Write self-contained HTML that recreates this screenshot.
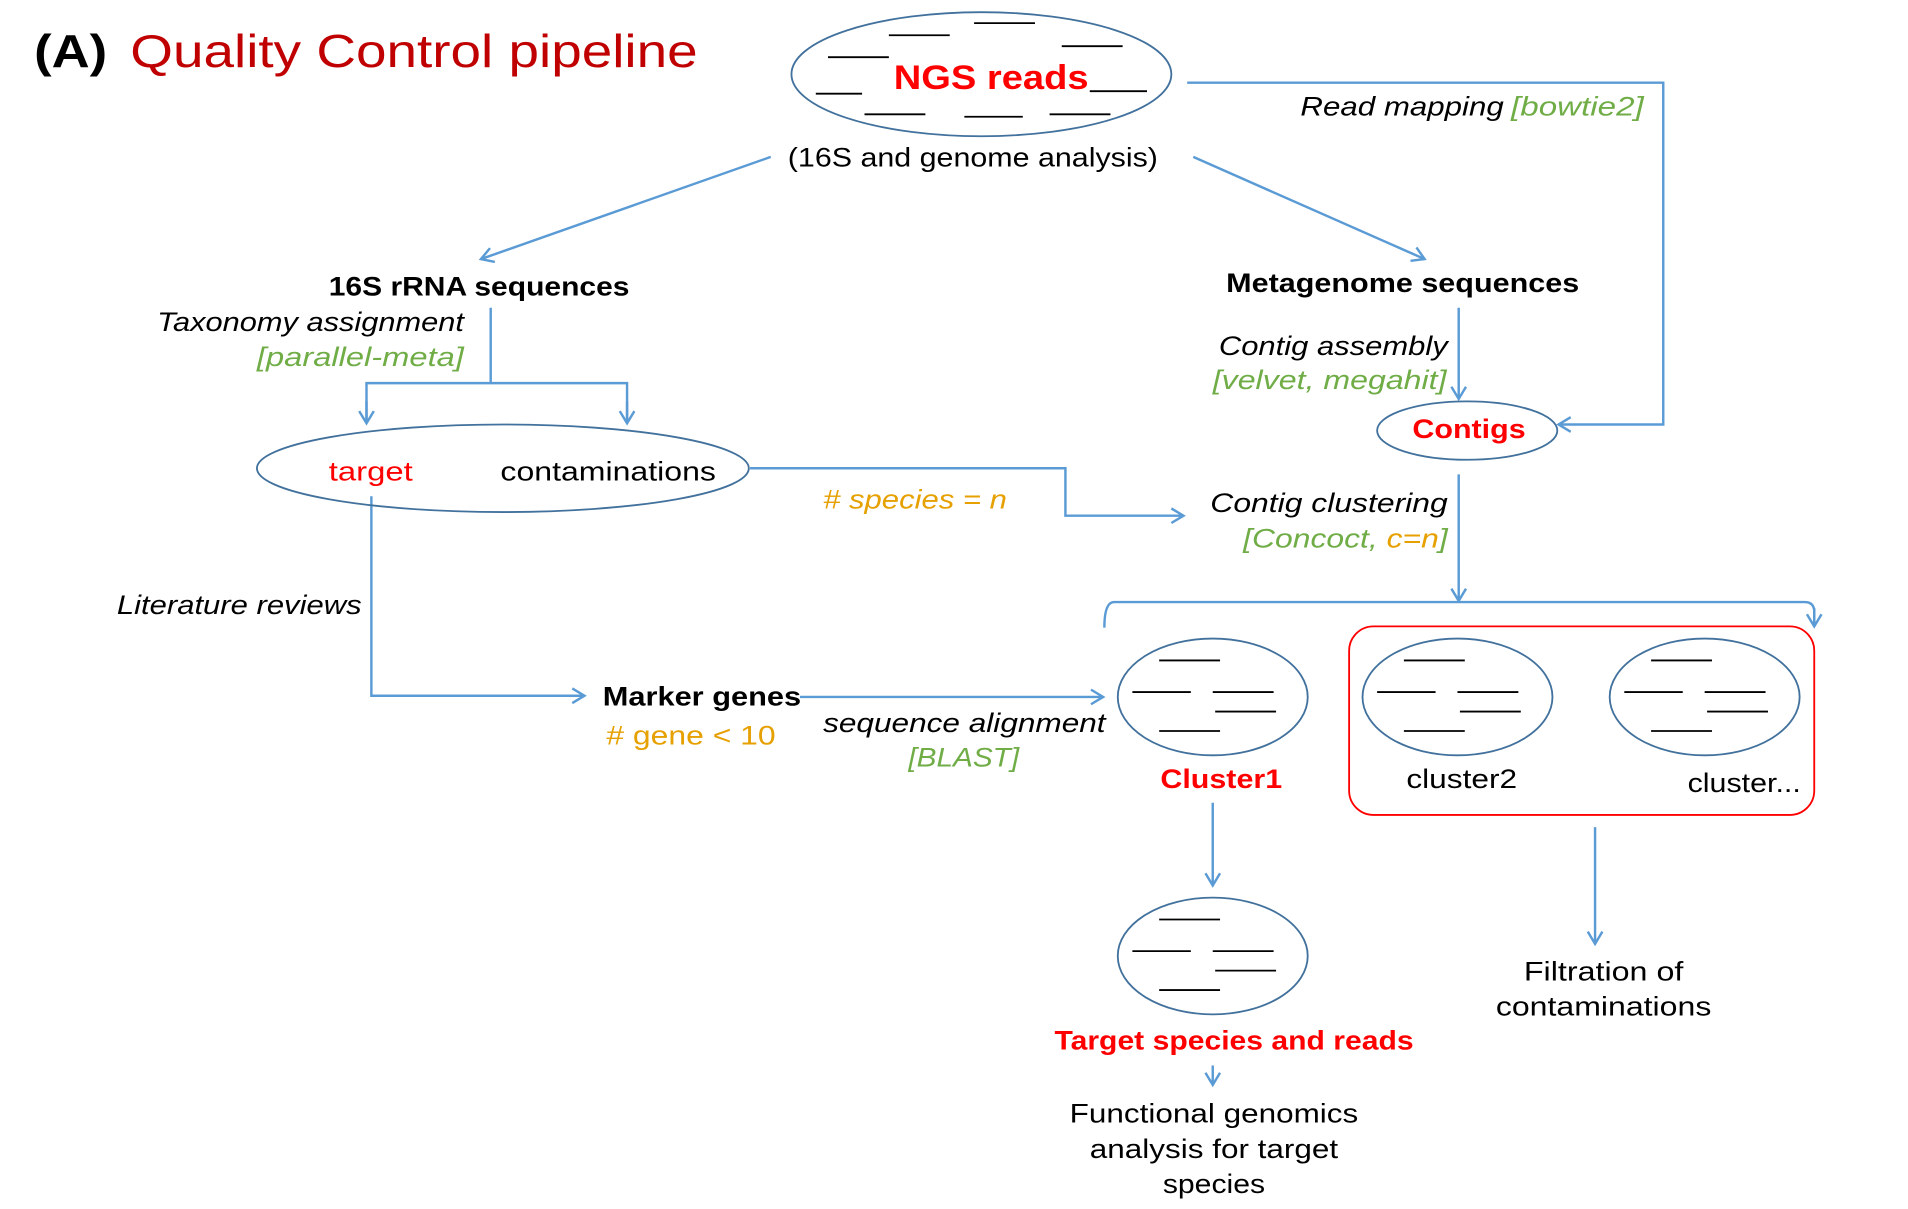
<!DOCTYPE html>
<html><head><meta charset="utf-8"><style>html,body{margin:0;padding:0;background:#fff}svg{display:block}text{font-family:"Liberation Sans",sans-serif}</style></head><body>
<svg width="1908" height="1209" viewBox="0 0 1567 994" preserveAspectRatio="none" xmlns="http://www.w3.org/2000/svg">
<defs>
<marker id="a" markerWidth="16" markerHeight="16" refX="12" refY="8" orient="auto" markerUnits="userSpaceOnUse">
<polyline points="2,2 12,8 2,14" fill="none" stroke="#5b9bd5" stroke-width="2"/></marker>
<g id="c" stroke="#000" stroke-width="1.5">
<line x1="-44" y1="-30" x2="6" y2="-30"/><line x1="-66" y1="-4" x2="-18" y2="-4"/><line x1="0" y1="-4" x2="50" y2="-4"/>
<line x1="2" y1="12" x2="52" y2="12"/><line x1="-44" y1="28" x2="6" y2="28"/></g>
</defs>
<g fill="none" stroke="#5b9bd5" stroke-width="2">
<line x1="633" y1="129" x2="395" y2="213" marker-end="url(#a)"/>
<line x1="980" y1="129" x2="1170" y2="213" marker-end="url(#a)"/>
<polyline points="975,68 1366,68 1366,349 1280,349" marker-end="url(#a)"/>
<line x1="403" y1="253" x2="403" y2="315"/>
<polyline points="301,347 301,315 515,315 515,347"/>
<line x1="301" y1="330" x2="301" y2="348" marker-end="url(#a)"/>
<line x1="515" y1="330" x2="515" y2="348" marker-end="url(#a)"/>
<polyline points="616,385 875,385 875,424 972,424" marker-end="url(#a)"/>
<line x1="1198" y1="253" x2="1198" y2="328" marker-end="url(#a)"/>
<line x1="1198" y1="390" x2="1198" y2="494" marker-end="url(#a)"/>
<path d="M907,516 Q907,495 915,495 L1482,495 Q1490,495 1490,503 L1490,514"/>
<line x1="1490" y1="500" x2="1490" y2="515" marker-end="url(#a)"/>
<polyline points="305,408 305,572 480,572" marker-end="url(#a)"/>
<line x1="657" y1="573" x2="906" y2="573" marker-end="url(#a)"/>
<line x1="996" y1="660" x2="996" y2="728" marker-end="url(#a)"/>
<line x1="1310" y1="680" x2="1310" y2="776" marker-end="url(#a)"/>
<line x1="996" y1="876" x2="996" y2="892" marker-end="url(#a)"/>
</g>
<g fill="none" stroke="#41719c" stroke-width="1.5">
<ellipse cx="806" cy="61" rx="156" ry="51"/>
<ellipse cx="413" cy="385" rx="202" ry="36"/>
<ellipse cx="1205" cy="354" rx="74" ry="24"/>
<ellipse cx="996" cy="573" rx="78" ry="48"/>
<ellipse cx="1197" cy="573" rx="78" ry="48"/>
<ellipse cx="1400" cy="573" rx="78" ry="48"/>
<ellipse cx="996" cy="786" rx="78" ry="48"/>
</g>
<rect x="1108" y="515" width="382" height="155" rx="20" fill="none" stroke="#ff0000" stroke-width="1.5"/>
<use href="#c" x="996" y="573"/><use href="#c" x="1197" y="573"/><use href="#c" x="1400" y="573"/><use href="#c" x="996" y="786"/>
<g stroke="#000" stroke-width="1.5">
<line x1="730" y1="29" x2="780" y2="29"/><line x1="800" y1="19" x2="850" y2="19"/><line x1="872" y1="38" x2="922" y2="38"/>
<line x1="680" y1="47" x2="730" y2="47"/><line x1="670" y1="77" x2="708" y2="77"/><line x1="895" y1="75" x2="942" y2="75"/>
<line x1="710" y1="94" x2="760" y2="94"/><line x1="792" y1="96" x2="840" y2="96"/><line x1="862" y1="94" x2="912" y2="94"/>
</g>
<text x="28" y="55" font-size="38" font-weight="bold" textLength="60" lengthAdjust="spacingAndGlyphs">(A)</text>
<text x="107" y="55" font-size="38" fill="#c00000" textLength="466" lengthAdjust="spacingAndGlyphs">Quality Control pipeline</text>
<text x="734" y="73" font-size="28" font-weight="bold" fill="#ff0000" textLength="160" lengthAdjust="spacingAndGlyphs">NGS reads</text>
<text x="647" y="137" font-size="22" textLength="304" lengthAdjust="spacingAndGlyphs">(16S and genome analysis)</text>
<text x="1068" y="95" font-size="22" font-style="italic" textLength="167" lengthAdjust="spacingAndGlyphs">Read mapping</text>
<text x="1241" y="95" font-size="22" font-style="italic" fill="#70ad47" textLength="109" lengthAdjust="spacingAndGlyphs">[bowtie2]</text>
<text x="270" y="243" font-size="22" font-weight="bold" textLength="247" lengthAdjust="spacingAndGlyphs">16S rRNA sequences</text>
<text x="129" y="272" font-size="22" font-style="italic" textLength="252" lengthAdjust="spacingAndGlyphs">Taxonomy assignment</text>
<text x="211" y="301" font-size="22" font-style="italic" fill="#70ad47" textLength="170" lengthAdjust="spacingAndGlyphs">[parallel-meta]</text>
<text x="270" y="395" font-size="22" fill="#ff0000" textLength="69" lengthAdjust="spacingAndGlyphs">target</text>
<text x="411" y="395" font-size="22" textLength="177" lengthAdjust="spacingAndGlyphs">contaminations</text>
<text x="676" y="418" font-size="22" font-style="italic" fill="#e6a000" textLength="151" lengthAdjust="spacingAndGlyphs"># species = n</text>
<text x="1007" y="240" font-size="22" font-weight="bold" textLength="290" lengthAdjust="spacingAndGlyphs">Metagenome sequences</text>
<text x="1001" y="292" font-size="22" font-style="italic" textLength="188" lengthAdjust="spacingAndGlyphs">Contig assembly</text>
<text x="996" y="320" font-size="22" font-style="italic" fill="#70ad47" textLength="192" lengthAdjust="spacingAndGlyphs">[velvet, megahit]</text>
<text x="1160" y="360" font-size="22" font-weight="bold" fill="#ff0000" textLength="93" lengthAdjust="spacingAndGlyphs">Contigs</text>
<text x="994" y="421" font-size="22" font-style="italic" textLength="195" lengthAdjust="spacingAndGlyphs">Contig clustering</text>
<text x="1021" y="450" font-size="22" font-style="italic" fill="#70ad47" textLength="168" lengthAdjust="spacingAndGlyphs">[Concoct, <tspan fill="#e6a000">c=n</tspan>]</text>
<text x="96" y="505" font-size="22" font-style="italic" textLength="201" lengthAdjust="spacingAndGlyphs">Literature reviews</text>
<text x="495" y="580" font-size="22" font-weight="bold" textLength="163" lengthAdjust="spacingAndGlyphs">Marker genes</text>
<text x="498" y="612" font-size="22" fill="#e6a000" textLength="139" lengthAdjust="spacingAndGlyphs"># gene &lt; 10</text>
<text x="676" y="602" font-size="22" font-style="italic" textLength="232" lengthAdjust="spacingAndGlyphs">sequence alignment</text>
<text x="746" y="630" font-size="22" font-style="italic" fill="#70ad47" textLength="91" lengthAdjust="spacingAndGlyphs">[BLAST]</text>
<text x="953" y="648" font-size="22" font-weight="bold" fill="#ff0000" textLength="100" lengthAdjust="spacingAndGlyphs">Cluster1</text>
<text x="1155" y="648" font-size="22" textLength="91" lengthAdjust="spacingAndGlyphs">cluster2</text>
<text x="1386" y="651" font-size="22" textLength="93" lengthAdjust="spacingAndGlyphs">cluster...</text>
<text x="866" y="863" font-size="22" font-weight="bold" fill="#ff0000" textLength="295" lengthAdjust="spacingAndGlyphs">Target species and reads</text>
<text x="997" y="923" font-size="22" text-anchor="middle" textLength="237" lengthAdjust="spacingAndGlyphs">Functional genomics</text>
<text x="997" y="952" font-size="22" text-anchor="middle" textLength="204" lengthAdjust="spacingAndGlyphs">analysis for target</text>
<text x="997" y="981" font-size="22" text-anchor="middle" textLength="84" lengthAdjust="spacingAndGlyphs">species</text>
<text x="1317" y="806" font-size="22" text-anchor="middle" textLength="131" lengthAdjust="spacingAndGlyphs">Filtration of</text>
<text x="1317" y="835" font-size="22" text-anchor="middle" textLength="177" lengthAdjust="spacingAndGlyphs">contaminations</text>
</svg>
</body></html>
